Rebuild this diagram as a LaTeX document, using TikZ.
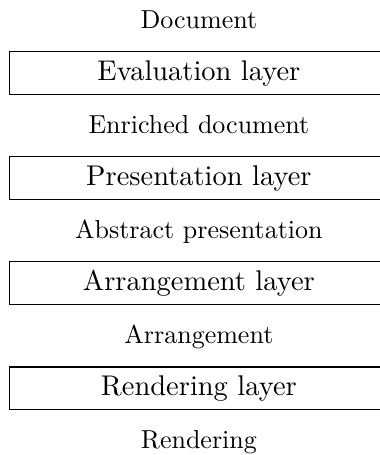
\documentclass[tikz,border=0pt]{standalone}
\usepackage{tikz}
\usetikzlibrary{positioning}

\begin{document}
\begin{tikzpicture}
	% ------------------------------------------------------------------
	% FRAME
	% ------------------------------------------------------------------
	\useasboundingbox (0,0) rectangle (145.8pt,175pt);
	
	% ------------------------------------------------------------------
	% STYLE DEFINITIONS
	% ------------------------------------------------------------------
	\tikzset{
		stage/.style = {anchor=base, inner sep=0pt, font=\fontsize{10}{12}\selectfont},
		layer/.style = {draw, line width=0.4pt, inner sep=0pt,
			minimum width=145.4pt, minimum height=16.5pt,
			font=\fontsize{10.95}{13.6}\selectfont}
	}
	
	% --- Data between the layers ---
	\node[stage] (doc)  at (76.5pt,164.1pt) {Document};
	\node[stage] (enr)  at (76.5pt,123.7pt) {Enriched document};
	\node[stage] (abs)  at (76.5pt,83.3pt)  {Abstract presentation};
	\node[stage] (arr)  at (76.5pt,42.9pt)  {Arrangement};
	\node[stage] (rend) at (76.5pt,2.5pt)   {Rendering};
	
	% --- Layers ---
	\node[layer] (eval)  at (76.5pt,146.8pt) {Evaluation layer};
	\node[layer] (pres)  at (76.5pt,106.4pt) {Presentation layer};
	\node[layer] (arrl)  at (76.5pt,66.0pt)  {Arrangement layer};
	\node[layer] (rendl) at (76.5pt,25.6pt)  {Rendering layer};
	
\end{tikzpicture}
\end{document}
